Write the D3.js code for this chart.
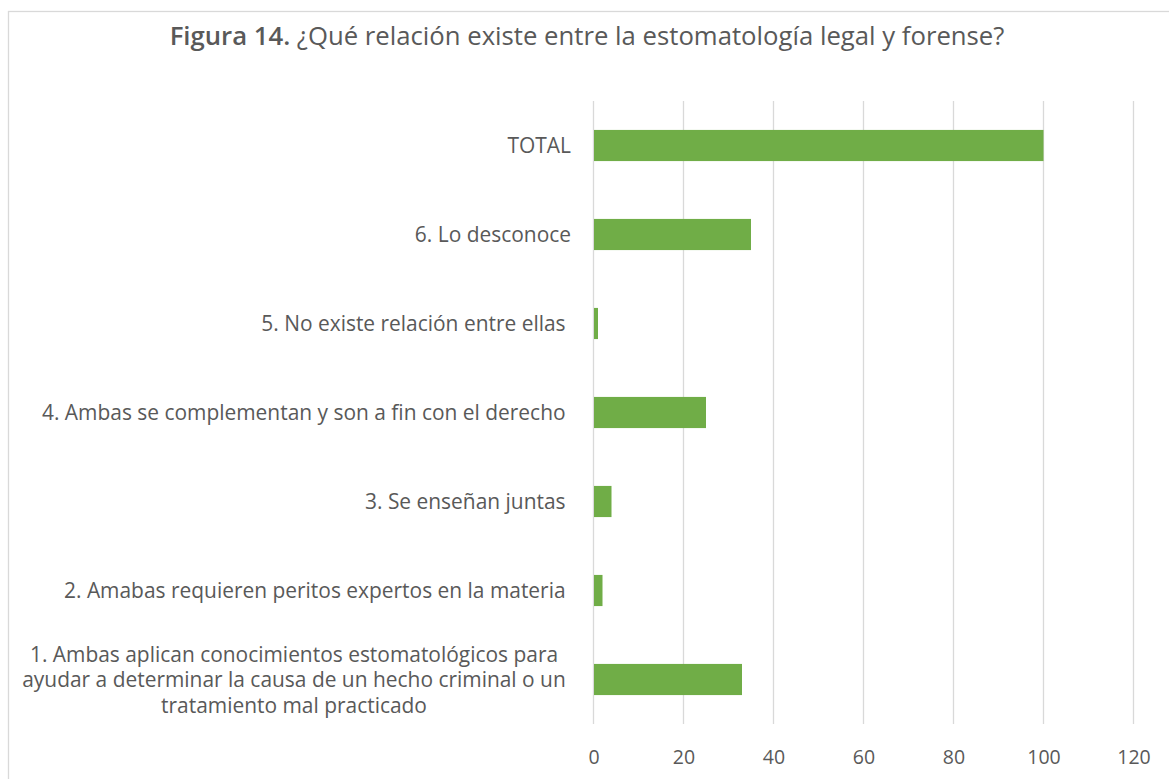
<!DOCTYPE html>
<html>
<head>
<meta charset="utf-8">
<script src="https://cdn.jsdelivr.net/npm/d3@7"></script>
<style>
  html, body { margin: 0; padding: 0; background: #fff; }
  svg { display: block; font-family: "Open Sans", Lato, sans-serif; }
  text { white-space: pre; }
</style>
</head>
<body>
<svg id="chart" width="1169" height="779"></svg>
<script>
// Data (bottom to top as in the source chart)
const categories = [
  ["1. Ambas aplican conocimientos estomatológicos para", "ayudar a determinar la causa de un hecho criminal o un", "tratamiento mal practicado"],
  ["2. Amabas requieren peritos expertos en la materia "],
  ["3. Se enseñan juntas "],
  ["4. Ambas se complementan y son a fin con el derecho "],
  ["5. No existe relación entre ellas "],
  ["6. Lo desconoce"],
  ["TOTAL"]
];
const values = [33, 2, 4, 25, 1, 35, 100];
const xTicks = [0, 20, 40, 60, 80, 100, 120];
const titleBold = "Figura 14.";
const titleRest = " ¿Qué relación existe entre la estomatología legal y forense?";

const svg = d3.select("#chart");
const textColor = "#595959";
const gridColor = "#D9D9D9";
const barColor = "#70AD47";

// Frame
svg.append("rect")
  .attr("x", 8.5).attr("y", 11.5)
  .attr("width", 1200).attr("height", 800)
  .attr("fill", "none").attr("stroke", gridColor).attr("stroke-width", 1.3);

// Title, sized to match the reference width
const title = svg.append("text")
  .attr("text-anchor", "middle")
  .attr("font-size", 20)
  .attr("fill", textColor);
title.append("tspan").attr("font-weight", "600").text(titleBold);
title.append("tspan").text(titleRest);
const tw = title.node().getComputedTextLength();
title.attr("font-size", 20 * 835 / tw).attr("x", 587).attr("y", 45);

const ids = categories.map((c, i) => "c" + i);
const x = d3.scaleLinear().domain([0, 120]).range([593.5, 1133.5]);
const y = d3.scaleBand().domain(ids.slice().reverse()).range([101, 724])
  .paddingInner(0.65).paddingOuter(0.325);

// Gridlines
svg.append("g").selectAll("line").data(xTicks).join("line")
  .attr("x1", d => x(d)).attr("x2", d => x(d))
  .attr("y1", 101).attr("y2", 724)
  .attr("stroke", gridColor).attr("stroke-width", 1.3);

// X axis labels
const xAxis = svg.append("g").attr("transform", "translate(0,724)")
  .call(d3.axisBottom(x).tickValues(xTicks).tickSize(0).tickPadding(26));
xAxis.select(".domain").remove();
xAxis.selectAll("text").attr("font-size", 19.5).attr("fill", textColor)
  .attr("font-family", "'Open Sans', Lato, sans-serif");

// Bars
svg.append("g").selectAll("rect").data(values).join("rect")
  .attr("x", x(0) + 0.5)
  .attr("y", (d, i) => y(ids[i]))
  .attr("width", d => x(d) - x(0) - 0.5)
  .attr("height", y.bandwidth())
  .attr("fill", barColor);

// Category labels, font size fitted from a reference label width
const labelG = svg.append("g").attr("font-size", 20).attr("fill", textColor);
const probe = labelG.append("text").text(categories[3][0].trim());
const fs = 20 * 524 / probe.node().getComputedTextLength();
probe.remove();
labelG.attr("font-size", fs);

categories.forEach((lines, i) => {
  const cy = y(ids[i]) + y.bandwidth() / 2;
  if (lines.length === 1) {
    labelG.append("text")
      .attr("x", 571).attr("y", cy)
      .attr("dy", "0.36em")
      .attr("text-anchor", "end")
      .text(lines[0]);
  } else {
    const lh = 25.5;
    lines.forEach((ln, k) => {
      labelG.append("text")
        .attr("text-anchor", "middle")
        .attr("x", 294)
        .attr("y", cy + (k - (lines.length - 1) / 2) * lh)
        .attr("dy", "0.36em")
        .text(ln);
    });
  }
});
</script>
</body>
</html>
